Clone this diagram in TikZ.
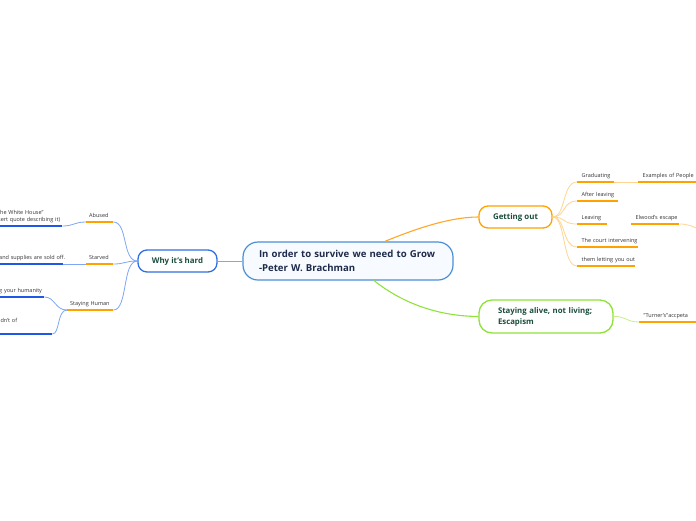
\documentclass[tikz,border=0pt]{standalone}
\usepackage{fontspec}
\setmainfont{Open Sans}
\definecolor{cborder}{HTML}{4A8FD6}
\definecolor{cfill}{HTML}{F7FBFF}
\definecolor{navy}{HTML}{1E2A4A}
\definecolor{tgreen}{HTML}{1B4D3E}
\definecolor{whyblue}{HTML}{2F6FE0}
\definecolor{ublue}{HTML}{1F57E6}
\definecolor{bconn}{HTML}{7DA6F5}
\definecolor{uorange}{HTML}{FFA200}
\definecolor{oconnl}{HTML}{FFD490}
\definecolor{oconn}{HTML}{FFA726}
\definecolor{ggreen}{HTML}{8FE23A}
\definecolor{gconnl}{HTML}{C4F08A}
\definecolor{leafgray}{HTML}{333333}
\hbadness=10000 \hfuzz=200pt
\begin{document}
\begin{tikzpicture}[x=1pt,y=-1pt,
  central/.style={draw=cborder, fill=cfill, line width=1.2pt, rounded corners=15pt,
    minimum width=210pt, minimum height=38pt, text width=178pt, align=left, inner sep=0pt,
    font=\fontsize{9.6}{13.5}\selectfont\bfseries, text=navy},
  topic/.style={fill=white, line width=1.3pt, rounded corners=9pt, inner sep=0pt,
    font=\fontsize{7.9}{9}\selectfont\bfseries, text=tgreen},
  leaf/.style={font=\fontsize{5.5}{7}\selectfont, text=leafgray, inner xsep=4.5pt,
    inner ysep=1.5pt, text depth=2.5pt, align=left, anchor=south west},
  oline/.style={draw=uorange, line width=1.6pt},
  bline/.style={draw=ublue, line width=1.6pt},
  bc/.style={draw=bconn, line width=0.8pt},
  oc/.style={draw=oconnl, line width=0.8pt},
  oc2/.style={draw=oconn, line width=1.1pt},
  gc/.style={draw=ggreen, line width=1.1pt},
  gcl/.style={draw=gconnl, line width=0.8pt}
]
\useasboundingbox (0,0) rectangle (696,520);
\clip (0,0) rectangle (696,520);

% central
\node[central] (c) at (348,261) {\mbox{In order to survive we need to Grow}\\\mbox{-Peter W. Brachman}};

% main topics
\node[topic, draw=whyblue, minimum width=79pt, minimum height=22pt] (why) at (177.5,261) {Why it's hard};
\node[topic, draw=uorange, minimum width=73pt, minimum height=22pt] (gout) at (515.5,217) {Getting out};
\node[topic, draw=ggreen, minimum width=134pt, minimum height=33pt, rounded corners=13pt,
  text width=96pt, align=left, font=\fontsize{7.8}{11}\selectfont\bfseries] (alive) at (546,316.5)
  {\mbox{Staying alive, not living;}\\\mbox{Escapism}};

% left leaves
\node[leaf, inner xsep=3pt, text width=21pt] (abused) at (86,222) {\mbox{Abused}};
\node[leaf, inner xsep=3pt, text width=21pt] (starved) at (86,264) {\mbox{Starved}};
\node[leaf, inner xsep=3pt, text width=40pt] (human) at (67,310) {\mbox{Staying Human}};

\node[leaf, inner xsep=2pt, text width=62pt, text depth=9.5pt] (wh) at (-4,226) {\mbox{the White House"}\\\mbox{sert quote describing it)}};
\node[leaf, inner xsep=2pt, text width=62pt] (sold) at (-3,264) {\mbox{and supplies are sold off.}};
\node[leaf, inner xsep=2pt, text width=43pt] (hum) at (-3,297) {\mbox{g your humanity}};
\node[leaf, inner xsep=2pt, text width=51pt, text depth=9.5pt] (of) at (-3,334) {\mbox{ldn't of}};

% right leaves
\node[leaf, text width=28pt] (grad) at (577,182) {\mbox{Graduating}};
\node[leaf, text width=70pt] (ex) at (638,182) {\mbox{Examples of People}};
\node[leaf, text width=32pt] (after) at (577,201) {\mbox{After leaving}};
\node[leaf, text width=21pt] (leave) at (577,224) {\mbox{Leaving}};
\node[leaf, text width=39pt] (elw) at (631,224) {\mbox{Elwood's escape}};
\node[leaf, text width=52pt] (court) at (577,247) {\mbox{The court intervening}};
\node[leaf, text width=49pt] (them) at (577,266) {\mbox{them letting you out}};
\node[leaf, text width=70pt] (turn) at (639,322) {\mbox{"Turner's"accpeta}};
\coordinate (off) at (720,240);

% underlines
\foreach \n in {abused,starved,human,grad,ex,after,leave,elw,court,them,turn}
  \draw[oline] (\n.south west) -- (\n.south east);
\foreach \n in {wh,sold,hum,of}
  \draw[bline] (\n.south west) -- (\n.south east);

% connectors centre
\draw[bc, line width=1pt] (c.west) -- (why.east);
\draw[oc2] (c.28.5) .. controls (415,229) and (450,217) .. (gout.west);
\draw[gc] (c.-37) .. controls (396,298) and (430,316) .. (alive.west);

% why it's hard children
\draw[bc] (why.west) .. controls (122,261) and (128,222) .. (abused.south east);
\draw[bc] (why.west) .. controls (125,261) and (125,264) .. (starved.south east);
\draw[bc] (why.west) .. controls (122,261) and (128,310) .. (human.south east);
\draw[bc] (abused.south west) .. controls (74,222) and (74,226) .. (wh.south east);
\draw[bc] (starved.south west) -- (sold.south east);
\draw[bc] (human.south west) .. controls (55,310) and (55,297) .. (hum.south east);
\draw[bc] (human.south west) .. controls (57,310) and (60,334) .. (of.south east);

% getting out children
\foreach \n in {grad,after,leave,court,them}
  \draw[oc] (gout.east) .. controls (566,217) and ([xshift=-15pt]\n.south west) .. (\n.south west);
\draw[oc] (grad.south east) -- (ex.south west);
\draw[oc] (elw.south east) .. controls (695,224) and (700,232) .. (off);

% staying alive child
\draw[gcl] (alive.east) .. controls (626,316) and (626,322) .. (turn.south west);
\end{tikzpicture}
\end{document}
